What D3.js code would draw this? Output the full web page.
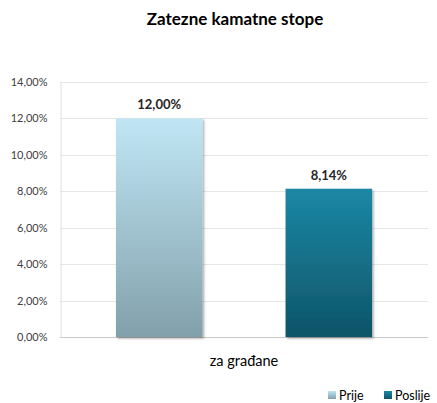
<!DOCTYPE html>
<html><head><meta charset="utf-8">
<script src="https://cdn.jsdelivr.net/npm/d3@7"></script>
<style>body{margin:0;background:#fff;} text{font-family:Lato,"Open Sans",sans-serif;}</style>
</head><body>
<svg id="c" width="437" height="403"></svg>
<script>
const title = "Zatezne kamatne stope";
const category = "za građane";
const series = ["Prije", "Poslije"];
const values = [12.00, 8.14];
const yTicks = [0, 2, 4, 6, 8, 10, 12, 14];

const svg = d3.select("#c");
const m = {l: 60, r: 9, t: 82, b: 66};
const W = 437, H = 403;
const fmt = v => d3.format(".2f")(v).replace(".", ",") + "%";

const y = d3.scaleLinear().domain([0, 14]).range([H - m.b, m.t]);
const x = d3.scaleBand().domain(series).range([m.l, W - m.r]).paddingInner(0.49).paddingOuter(0.33);

const defs = svg.append("defs");
const g1 = defs.append("linearGradient").attr("id", "g0").attr("x1", 0).attr("x2", 0).attr("y1", 0).attr("y2", 1);
g1.append("stop").attr("offset", "0%").attr("stop-color", "#c0e6f5");
g1.append("stop").attr("offset", "100%").attr("stop-color", "#82a0ab");
const g2 = defs.append("linearGradient").attr("id", "g1").attr("x1", 0).attr("x2", 0).attr("y1", 0).attr("y2", 1);
g2.append("stop").attr("offset", "0%").attr("stop-color", "#1b88a4");
g2.append("stop").attr("offset", "100%").attr("stop-color", "#0e5468");
const sh = defs.append("filter").attr("id", "sh").attr("x", "-10%").attr("y", "-10%").attr("width", "130%").attr("height", "130%");
sh.append("feDropShadow").attr("dx", 1.5).attr("dy", 1.5).attr("stdDeviation", 1.2).attr("flood-color", "#000").attr("flood-opacity", 0.35);

// gridlines
svg.append("g").selectAll("line").data(yTicks).join("line")
  .attr("x1", m.l).attr("x2", W - m.r)
  .attr("y1", d => Math.round(y(d)) + 0.5).attr("y2", d => Math.round(y(d)) + 0.5)
  .attr("stroke", d => d === 0 ? "#c8c8c8" : "#e6e6e6").attr("stroke-width", 1);

// y axis
const ya = svg.append("g").attr("transform", `translate(${m.l + 0.5},0)`)
  .call(d3.axisLeft(y).tickValues(yTicks).tickFormat(fmt).tickSize(0).tickPadding(13));
ya.select(".domain").attr("stroke", "#e0e0e0");
ya.selectAll("text").attr("font-size", 11).attr("fill", "#404040").style("font-family", "Lato,'Open Sans',sans-serif");

// bars
svg.append("g").selectAll("rect").data(values).join("rect")
  .attr("x", (d, i) => x(series[i])).attr("width", x.bandwidth())
  .attr("y", d => y(d)).attr("height", d => y(0) - y(d))
  .attr("fill", (d, i) => `url(#g${i})`).attr("filter", "url(#sh)");

// value labels
svg.append("g").selectAll("text").data(values).join("text")
  .attr("x", (d, i) => x(series[i]) + x.bandwidth() / 2)
  .attr("y", d => y(d) - 9)
  .attr("text-anchor", "middle").attr("font-size", 13).attr("font-weight", "bold").attr("fill", "#262626")
  .text(fmt);

// title
svg.append("text").attr("x", 235).attr("y", 25).attr("text-anchor", "middle")
  .attr("font-size", 17).attr("font-weight", "bold").attr("fill", "#000").text(title);

// category label
svg.append("text").attr("x", (m.l + W - m.r) / 2).attr("y", 366).attr("text-anchor", "middle")
  .attr("font-size", 14.5).attr("fill", "#000").text(category);

// legend
const lx = [328, 384];
const lg = svg.append("g").selectAll("g").data(series).join("g").attr("transform", (d, i) => `translate(${lx[i]},391)`);
lg.append("rect").attr("width", 8).attr("height", 8).attr("fill", (d, i) => `url(#g${i})`);
lg.append("text").attr("x", 11).attr("y", 8.5).attr("font-size", 12.5).attr("fill", "#000").text(d => d);
</script>
</body></html>
